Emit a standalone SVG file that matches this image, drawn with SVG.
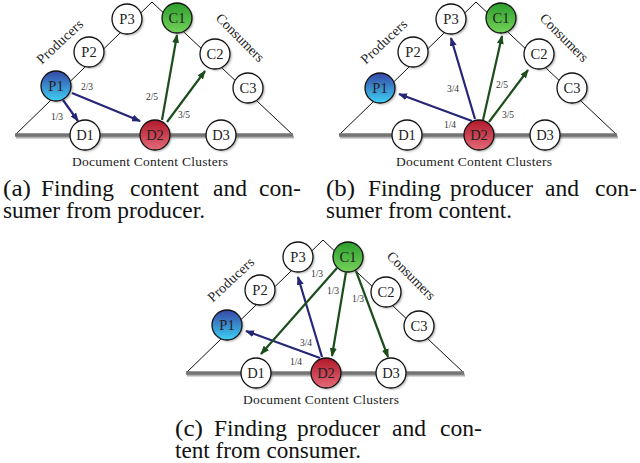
<svg xmlns="http://www.w3.org/2000/svg" width="640" height="463" viewBox="0 0 640 463">
<style>
text{font-family:"Liberation Serif","Times New Roman",serif;fill:#222}
.tri{fill:none;stroke:#111;stroke-width:1}
.base{stroke:#747474;stroke-width:3.4}
.baseS{stroke:#b0b0b0;stroke-width:3}
.sh{fill:#666;opacity:.55;filter:url(#blur)}
.nd{stroke:#111;stroke-width:1.3}
.w{fill:#fff}
.b{fill:url(#gb)}
.r{fill:url(#gr)}
.g{fill:url(#gg)}
.nl{font-size:14.5px;text-anchor:middle}
.el{font-size:9.5px;text-anchor:middle;fill:#333}
.side{font-size:14px;text-anchor:middle}
.dcc{font-size:13.5px;text-anchor:middle}
.cap{font-size:22.5px;fill:#111}
.ab{stroke:#262678;stroke-width:2.2;fill:none;marker-end:url(#mb)}
.ag{stroke:#1c4d1c;stroke-width:2.2;fill:none;marker-end:url(#mg)}
</style>
<defs>
<filter id="blur" x="-30%" y="-30%" width="160%" height="160%"><feGaussianBlur stdDeviation="0.8"/></filter>
<linearGradient id="gb" x1="0" y1="0" x2="0" y2="1"><stop offset="0" stop-color="#3646a6"/><stop offset="1" stop-color="#3ed0f4"/></linearGradient>
<linearGradient id="gr" x1="0" y1="0" x2="0" y2="1"><stop offset="0" stop-color="#b0182a"/><stop offset="1" stop-color="#e46a78"/></linearGradient>
<linearGradient id="gg" x1="0" y1="0" x2="0" y2="1"><stop offset="0" stop-color="#2c9e2c"/><stop offset="1" stop-color="#74d25a"/></linearGradient>
<marker id="mb" markerUnits="userSpaceOnUse" markerWidth="9" markerHeight="7" refX="8" refY="3.5" orient="auto"><path d="M0,0 L9,3.5 L0,7 z" fill="#262678"/></marker>
<marker id="mg" markerUnits="userSpaceOnUse" markerWidth="9" markerHeight="7" refX="8" refY="3.5" orient="auto"><path d="M0,0 L9,3.5 L0,7 z" fill="#1c4d1c"/></marker>
</defs>

<!-- Panel (a) -->
<g id="panelA">
  <g id="a-frame">
    <polyline class="tri" points="15,135 152,2 293,135"/>
    <line class="baseS" x1="16" y1="137" x2="294" y2="137"/>
    <line class="base" x1="15" y1="135" x2="293" y2="135"/>
    <text class="side" transform="translate(63,45) rotate(-43)" textLength="58">Producers</text>
    <text class="side" transform="translate(237,41) rotate(45)" textLength="62">Consumers</text>
    <text class="dcc" x="150" y="166" textLength="156">Document Content Clusters</text>
  </g>
  <g id="a-P3"><circle class="sh" cx="128.5" cy="20.5" r="15"/><circle class="nd w" cx="127" cy="19" r="15"/><text class="nl" x="127" y="24">P3</text></g>
  <g id="a-P2"><circle class="sh" cx="90.5" cy="53.5" r="15"/><circle class="nd w" cx="89" cy="52" r="15"/><text class="nl" x="89" y="57">P2</text></g>
  <g id="a-P1"><circle class="sh" cx="57.5" cy="87.5" r="15"/><circle class="nd b" cx="56" cy="86" r="15"/><text class="nl" x="56" y="91">P1</text></g>
  <g id="a-D1"><circle class="sh" cx="86.5" cy="136.5" r="15"/><circle class="nd w" cx="85" cy="135" r="15"/><text class="nl" x="85" y="140">D1</text></g>
  <g id="a-D2"><circle class="sh" cx="156.5" cy="136.5" r="15"/><circle class="nd r" cx="155" cy="135" r="15"/><text class="nl" x="155" y="140">D2</text></g>
  <g id="a-D3"><circle class="sh" cx="222.5" cy="136.5" r="15"/><circle class="nd w" cx="221" cy="135" r="15"/><text class="nl" x="221" y="140">D3</text></g>
  <g id="a-C1"><circle class="sh" cx="178.5" cy="19.5" r="15"/><circle class="nd g" cx="177" cy="18" r="15"/><text class="nl" x="177" y="23">C1</text></g>
  <g id="a-C2"><circle class="sh" cx="216.5" cy="55.5" r="15"/><circle class="nd w" cx="215" cy="54" r="15"/><text class="nl" x="215" y="59">C2</text></g>
  <g id="a-C3"><circle class="sh" cx="249.5" cy="89.5" r="15"/><circle class="nd w" cx="248" cy="88" r="15"/><text class="nl" x="248" y="93">C3</text></g>
  <g id="a-connectors">
    <line class="ab" x1="63" y1="100" x2="78" y2="121"/>
    <line class="ab" x1="72" y1="93" x2="140" y2="121"/>
    <line class="ag" x1="162" y1="120" x2="177" y2="35"/>
    <line class="ag" x1="167" y1="122" x2="205" y2="71"/>
    <text class="el" x="87" y="90">2/3</text>
    <text class="el" x="57" y="120">1/3</text>
    <text class="el" x="152" y="100">2/5</text>
    <text class="el" x="184" y="118">3/5</text>
  </g>
</g>

<!-- Panel (b) -->
<g id="panelB" transform="translate(324,0)">
  <g id="b-frame">
    <polyline class="tri" points="15,135 152,2 293,135"/>
    <line class="baseS" x1="16" y1="137" x2="294" y2="137"/>
    <line class="base" x1="15" y1="135" x2="293" y2="135"/>
    <text class="side" transform="translate(63,45) rotate(-43)" textLength="58">Producers</text>
    <text class="side" transform="translate(237,41) rotate(45)" textLength="62">Consumers</text>
    <text class="dcc" x="150" y="166" textLength="156">Document Content Clusters</text>
  </g>
  <g id="b-P3"><circle class="sh" cx="128.5" cy="20.5" r="15"/><circle class="nd w" cx="127" cy="19" r="15"/><text class="nl" x="127" y="24">P3</text></g>
  <g id="b-P2"><circle class="sh" cx="90.5" cy="53.5" r="15"/><circle class="nd w" cx="89" cy="52" r="15"/><text class="nl" x="89" y="57">P2</text></g>
  <g id="b-P1"><circle class="sh" cx="57.5" cy="89.5" r="15"/><circle class="nd b" cx="56" cy="88" r="15"/><text class="nl" x="56" y="93">P1</text></g>
  <g id="b-D1"><circle class="sh" cx="84.5" cy="136.5" r="15"/><circle class="nd w" cx="83" cy="135" r="15"/><text class="nl" x="83" y="140">D1</text></g>
  <g id="b-D2"><circle class="sh" cx="156.5" cy="136.5" r="15"/><circle class="nd r" cx="155" cy="135" r="15"/><text class="nl" x="155" y="140">D2</text></g>
  <g id="b-D3"><circle class="sh" cx="222.5" cy="136.5" r="15"/><circle class="nd w" cx="221" cy="135" r="15"/><text class="nl" x="221" y="140">D3</text></g>
  <g id="b-C1"><circle class="sh" cx="178.5" cy="19.5" r="15"/><circle class="nd g" cx="177" cy="18" r="15"/><text class="nl" x="177" y="23">C1</text></g>
  <g id="b-C2"><circle class="sh" cx="216.5" cy="55.5" r="15"/><circle class="nd w" cx="215" cy="54" r="15"/><text class="nl" x="215" y="59">C2</text></g>
  <g id="b-C3"><circle class="sh" cx="249.5" cy="89.5" r="15"/><circle class="nd w" cx="248" cy="88" r="15"/><text class="nl" x="248" y="93">C3</text></g>
  <g id="b-connectors">
    <line class="ab" x1="148" y1="121" x2="75" y2="94"/>
    <line class="ab" x1="151" y1="119" x2="127" y2="38"/>
    <line class="ag" x1="159" y1="120" x2="178" y2="36"/>
    <line class="ag" x1="165" y1="122" x2="204" y2="70"/>
    <text class="el" x="129" y="92">3/4</text>
    <text class="el" x="126" y="128">1/4</text>
    <text class="el" x="178" y="88">2/5</text>
    <text class="el" x="184" y="118">3/5</text>
  </g>
</g>

<!-- Panel (c) -->
<g id="panelC" transform="translate(171,238)">
  <g id="c-frame">
    <polyline class="tri" points="15,135 152,2 293,135"/>
    <line class="baseS" x1="16" y1="137" x2="294" y2="137"/>
    <line class="base" x1="15" y1="135" x2="293" y2="135"/>
    <text class="side" transform="translate(63,45) rotate(-43)" textLength="58">Producers</text>
    <text class="side" transform="translate(237,41) rotate(45)" textLength="62">Consumers</text>
    <text class="dcc" x="150" y="166" textLength="156">Document Content Clusters</text>
  </g>
  <g id="c-P3"><circle class="sh" cx="128.5" cy="20.5" r="15"/><circle class="nd w" cx="127" cy="19" r="15"/><text class="nl" x="127" y="24">P3</text></g>
  <g id="c-P2"><circle class="sh" cx="90.5" cy="53.5" r="15"/><circle class="nd w" cx="89" cy="52" r="15"/><text class="nl" x="89" y="57">P2</text></g>
  <g id="c-P1"><circle class="sh" cx="57.5" cy="88.5" r="15"/><circle class="nd b" cx="56" cy="87" r="15"/><text class="nl" x="56" y="92">P1</text></g>
  <g id="c-D1"><circle class="sh" cx="86.5" cy="136.5" r="15"/><circle class="nd w" cx="85" cy="135" r="15"/><text class="nl" x="85" y="140">D1</text></g>
  <g id="c-D2"><circle class="sh" cx="156.5" cy="136.5" r="15"/><circle class="nd r" cx="155" cy="135" r="15"/><text class="nl" x="155" y="140">D2</text></g>
  <g id="c-D3"><circle class="sh" cx="221.5" cy="136.5" r="15"/><circle class="nd w" cx="220" cy="135" r="15"/><text class="nl" x="220" y="140">D3</text></g>
  <g id="c-C1"><circle class="sh" cx="178.5" cy="20.5" r="15"/><circle class="nd g" cx="177" cy="19" r="15"/><text class="nl" x="177" y="24">C1</text></g>
  <g id="c-C2"><circle class="sh" cx="216.5" cy="55.5" r="15"/><circle class="nd w" cx="215" cy="54" r="15"/><text class="nl" x="215" y="59">C2</text></g>
  <g id="c-C3"><circle class="sh" cx="249.5" cy="89.5" r="15"/><circle class="nd w" cx="248" cy="88" r="15"/><text class="nl" x="248" y="93">C3</text></g>
  <g id="c-connectors">
    <line class="ab" x1="149" y1="120" x2="75" y2="93"/>
    <line class="ab" x1="151" y1="119" x2="127" y2="39"/>
    <line class="ag" x1="166" y1="30" x2="90" y2="116"/>
    <line class="ag" x1="175" y1="34" x2="161" y2="118"/>
    <line class="ag" x1="185" y1="33" x2="217" y2="119"/>
    <text class="el" x="146" y="39">1/3</text>
    <text class="el" x="162" y="56">1/3</text>
    <text class="el" x="187" y="64">1/3</text>
    <text class="el" x="135" y="108">3/4</text>
    <text class="el" x="125" y="127">1/4</text>
  </g>
</g>

<!-- Captions -->
<g id="captions">
  <text class="cap" x="3" y="196" textLength="28" lengthAdjust="spacingAndGlyphs">(a)</text>
  <text class="cap" x="41" y="196" textLength="73" lengthAdjust="spacingAndGlyphs">Finding</text>
  <text class="cap" x="130" y="196" textLength="69" lengthAdjust="spacingAndGlyphs">content</text>
  <text class="cap" x="213" y="196" textLength="34" lengthAdjust="spacingAndGlyphs">and</text>
  <text class="cap" x="259" y="196" textLength="42" lengthAdjust="spacingAndGlyphs">con-</text>
  <text class="cap" x="3" y="218" textLength="202" lengthAdjust="spacingAndGlyphs">sumer from producer.</text>

  <text class="cap" x="326" y="196" textLength="29" lengthAdjust="spacingAndGlyphs">(b)</text>
  <text class="cap" x="368" y="196" textLength="73" lengthAdjust="spacingAndGlyphs">Finding</text>
  <text class="cap" x="450" y="196" textLength="83" lengthAdjust="spacingAndGlyphs">producer</text>
  <text class="cap" x="545" y="196" textLength="34" lengthAdjust="spacingAndGlyphs">and</text>
  <text class="cap" x="595" y="196" textLength="42" lengthAdjust="spacingAndGlyphs">con-</text>
  <text class="cap" x="326" y="218" textLength="186" lengthAdjust="spacingAndGlyphs">sumer from content.</text>

  <text class="cap" x="175" y="436" textLength="28" lengthAdjust="spacingAndGlyphs">(c)</text>
  <text class="cap" x="214" y="436" textLength="73" lengthAdjust="spacingAndGlyphs">Finding</text>
  <text class="cap" x="297" y="436" textLength="83" lengthAdjust="spacingAndGlyphs">producer</text>
  <text class="cap" x="392" y="436" textLength="34" lengthAdjust="spacingAndGlyphs">and</text>
  <text class="cap" x="440" y="436" textLength="42" lengthAdjust="spacingAndGlyphs">con-</text>
  <text class="cap" x="175" y="458" textLength="186" lengthAdjust="spacingAndGlyphs">tent from consumer.</text>
</g>
</svg>
